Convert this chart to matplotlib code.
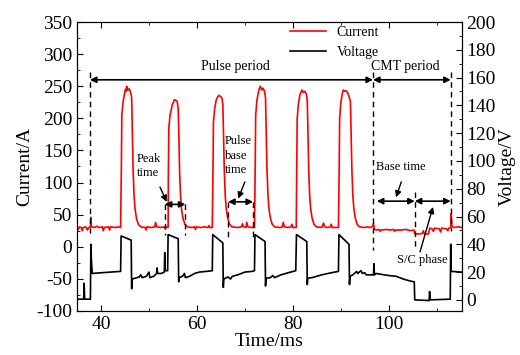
import matplotlib
matplotlib.use("Agg")
import matplotlib.pyplot as plt
from matplotlib.ticker import MultipleLocator

plt.rcParams['font.family'] = ['Liberation Serif', 'DejaVu Serif']
plt.rcParams['axes.unicode_minus'] = False

# current trace (time in ms, current in A)
cur_t = [35.0, 35.3, 35.5, 35.9, 36.1, 36.3, 36.8, 37.2, 37.4, 37.8, 37.9, 38.0, 38.6, 39.2, 39.5,
         40.3, 40.5, 40.7, 41.6, 41.8, 42.0, 43.0, 43.6, 44.1,
         44.25, 44.35, 44.6, 44.9, 45.1, 45.25, 45.35, 45.6, 45.9, 46.2, 46.4, 46.55, 46.7, 46.9, 47.1,
         47.4, 47.8, 48.3,
         49.2, 49.4, 49.6, 50.5, 51.2, 51.4, 51.6, 52.5, 53.2, 53.4, 53.6, 54.0,
         54.05, 54.15, 54.4, 54.7, 54.9, 55.1, 55.3, 55.6, 55.9, 56.1, 56.25, 56.4, 56.6, 56.8, 57.1,
         57.5, 58.0,
         59.0, 59.5, 59.7, 59.9, 60.8, 61.5, 62.3, 62.5, 62.7, 63.2,
         63.35, 63.45, 63.7, 64.0, 64.3, 64.6, 64.9, 65.2, 65.4, 65.55, 65.7, 65.9, 66.1, 66.4, 66.8,
         67.3,
         68.5, 69.3, 69.5, 69.7, 70.2, 70.4, 70.6, 71.5, 72.0,
         72.15, 72.25, 72.5, 72.8, 73.0, 73.2, 73.5, 73.8, 74.1, 74.3, 74.45, 74.6, 74.8, 75.0, 75.3,
         75.7, 76.2,
         77.3, 77.8, 78.0, 78.2, 79.0, 79.6, 79.8, 80.0, 80.7,
         80.8, 80.9, 81.15, 81.45, 81.7, 81.9, 82.2, 82.5, 82.8, 83.0, 83.15, 83.3, 83.5, 83.7, 84.0,
         84.4, 84.9,
         86.0, 86.4, 86.6, 87.3, 87.8, 88.0, 88.2, 89.5,
         89.65, 89.75, 90.0, 90.3, 90.5, 90.8, 91.1, 91.4, 91.7, 92.0, 92.15, 92.3, 92.5, 92.7, 93.0,
         93.4, 93.9,
         95.0, 95.5, 96.0, 96.5, 96.8, 97.0,
         97.5, 98.0, 98.2, 98.4, 99.5, 100.3, 101.0, 101.2, 101.4, 102.5, 103.5, 104.5, 105.3,
         105.4, 106.5, 107.0, 107.2, 107.4, 108.3, 108.5, 109.0, 109.3, 109.5, 110.5, 110.8, 111.0,
         112.0, 112.3, 112.5, 112.9, 113.0, 113.15, 113.5, 114.5, 115.2]
cur_a = [30, 27, 31, 30, 25, 30, 31, 26, 30, 31, 46, 31, 30, 32, 30,
         31, 25, 30, 31, 26, 31, 30, 31, 30,
         120, 205, 225, 238, 245, 242, 250, 244, 246, 240, 232, 180, 120, 80, 60,
         44, 35, 31,
         30, 26, 31, 30, 31, 38, 31, 30, 31, 28, 31, 30,
         110, 185, 205, 215, 222, 225, 229, 228, 226, 215, 170, 115, 78, 58, 44,
         35, 31,
         30, 31, 27, 31, 30, 31, 30, 33, 30, 30,
         120, 195, 215, 228, 233, 236, 234, 232, 222, 175, 120, 80, 60, 45, 35,
         31,
         30, 31, 36, 31, 30, 38, 31, 30, 30,
         125, 205, 228, 240, 246, 250, 244, 247, 242, 232, 180, 122, 82, 60, 45,
         35, 31,
         30, 31, 38, 31, 30, 31, 35, 30, 30,
         120, 200, 222, 236, 241, 244, 240, 242, 238, 228, 178, 120, 80, 60, 45,
         35, 31,
         30, 37, 31, 30, 31, 35, 30, 30,
         120, 200, 225, 238, 244, 242, 243, 240, 234, 226, 175, 120, 80, 60, 45,
         35, 31,
         30, 31, 30, 31, 36, 27,
         26, 27, 24, 26, 27, 26, 27, 24, 26, 26, 27, 25, 26,
         20, 20, 21, 25, 20, 20, 29, 28, 24, 29, 28, 23, 29,
         28, 25, 29, 30, 52, 32, 30, 31, 30]

# voltage trace (time in ms, voltage in V)
volt_t = [35.0, 36.4, 36.5, 36.6, 37.8, 37.9, 38.05, 38.2, 40.0, 42.0, 44.1,
          44.2, 46.3, 46.4, 46.5, 47.5, 48.0, 48.3, 48.6, 49.5, 50.0, 50.2, 51.0, 51.6, 51.7, 51.8,
          52.6, 53.2, 53.3, 53.4, 53.9,
          54.0, 56.1, 56.2, 56.3, 57.0, 57.4, 57.6, 58.5, 59.5, 60.5, 62.0, 63.2,
          63.3, 65.4, 65.5, 65.6, 66.5, 67.0, 67.4, 68.5, 70.0, 71.5, 72.0,
          72.1, 74.2, 74.3, 74.4, 75.3, 75.8, 76.2, 77.5, 79.0, 80.6,
          80.75, 82.9, 83.0, 83.1, 84.0, 86.0, 88.0, 89.5,
          89.6, 91.7, 91.8, 91.9, 92.5, 93.3, 93.5, 94.2, 94.5, 95.0, 95.3, 96.8, 96.9, 97.0, 97.3,
          100.0, 101.5, 103.0, 104.5, 105.3,
          105.4, 108.4, 108.5, 108.6, 112.8, 112.9, 113.0, 115.2]
volt_v = [0.5, 0.5, 12, 0.5, 0.5, 40, 26, 19, 19.5, 20, 20.5,
          46, 43, 8, 15, 16, 16.5, 18, 16, 17, 20, 16, 17, 19, 23, 19,
          19, 20, 34, 21, 21,
          47, 44, 13, 16, 17, 19, 16, 17, 19, 20, 20.5, 21,
          47, 41, 9, 15, 16.5, 15, 17, 18, 20, 20.5, 21,
          47, 42, 10, 15.5, 16, 17.5, 16, 18, 19.5, 21,
          47, 42, 11, 15.6, 16, 18, 19.5, 20.5,
          47, 40, 11, 17, 18, 20.5, 19, 21, 19, 19.5, 18, 18, 26, 18, 19,
          17.5, 17, 15, 13.5, 13,
          0, -0.5, 6, 0, 0.5, 40, 20.5, 20]

fig = plt.figure(figsize=(5.2, 3.55), dpi=100)
ax = fig.add_axes([0.148, 0.124, 0.740, 0.814])
ax2 = ax.twinx()

l1, = ax.plot(cur_t, cur_a, color='red', lw=1.2, label='Current')
l2, = ax2.plot(volt_t, volt_v, color='black', lw=1.2, label='Voltage')

ax.set_xlim(35, 115.2)
ax.set_ylim(-100, 350)
ax2.set_ylim(-8, 200)

ax.xaxis.set_major_locator(MultipleLocator(20))
ax.xaxis.set_minor_locator(MultipleLocator(10))
ax.yaxis.set_major_locator(MultipleLocator(50))
ax.yaxis.set_minor_locator(MultipleLocator(25))
ax2.yaxis.set_major_locator(MultipleLocator(20))
ax2.yaxis.set_minor_locator(MultipleLocator(10))

ax.tick_params(which='both', direction='in', top=True, right=False, labelsize=14)
ax.tick_params(which='major', length=4)
ax.tick_params(which='minor', length=2)
ax2.tick_params(which='both', direction='in', labelsize=14)
ax2.tick_params(which='major', length=4)
ax2.tick_params(which='minor', length=2)

ax.set_xlabel('Time/ms', fontsize=14, labelpad=0)
ax.set_ylabel('Current/A', fontsize=14, labelpad=2)
ax2.set_ylabel('Voltage/V', fontsize=14, labelpad=2)

ax.legend(handles=[l1, l2], loc='upper left', bbox_to_anchor=(0.52, 1.03),
          frameon=False, fontsize=10, handlelength=2.6, labelspacing=0.5)

# dashed markers
dash = dict(color='black', ls=(0, (4, 3)), lw=1.0)
ax.plot([37.7, 37.7], [272, 18], **dash)
ax.plot([96.7, 96.7], [272, -5], **dash)
ax.plot([112.9, 112.9], [272, 25], **dash)
ax.plot([105.4, 105.4], [86, -5], **dash)
ax.plot([53.3, 53.3], [66, 18], **dash)
ax.plot([57.6, 57.6], [66, 18], **dash)
ax.plot([66.5, 66.5], [70, 12], **dash)
ax.plot([71.7, 71.7], [70, 12], **dash)

# span arrows
span = dict(arrowstyle='<|-|>', color='black', lw=1.2, mutation_scale=9, shrinkA=0, shrinkB=0)
ax.annotate('', xy=(37.7, 260), xytext=(96.7, 260), arrowprops=span)
ax.annotate('', xy=(96.7, 260), xytext=(112.9, 260), arrowprops=span)
ax.annotate('', xy=(53.3, 66), xytext=(57.6, 66), arrowprops=span)
ax.annotate('', xy=(66.5, 70), xytext=(71.7, 70), arrowprops=span)
ax.annotate('', xy=(97.5, 71), xytext=(105.4, 71), arrowprops=span)
ax.annotate('', xy=(105.4, 71), xytext=(112.9, 71), arrowprops=span)

ax.text(68.1, 280, 'Pulse period', ha='center', va='center', fontsize=10)
ax.text(103.5, 280, 'CMT period', ha='center', va='center', fontsize=10)

# pointer labels
ptr = dict(arrowstyle='-|>', color='black', lw=1.0, mutation_scale=9, shrinkA=0, shrinkB=0)
ax.text(47.5, 126, 'Peak\ntime', ha='left', va='center', fontsize=9, linespacing=1.3)
ax.annotate('', xy=(53.7, 70), xytext=(52.3, 93), arrowprops=ptr)
ax.text(65.8, 142, 'Pulse\nbase\ntime', ha='left', va='center', fontsize=9, linespacing=1.3)
ax.annotate('', xy=(68.6, 75), xytext=(70.0, 101), arrowprops=ptr)
ax.text(97.4, 124, 'Base time', ha='left', va='center', fontsize=9)
ax.annotate('', xy=(101.5, 77), xytext=(102.6, 101), arrowprops=ptr)
ax.text(101.8, -21, 'S/C phase', ha='left', va='center', fontsize=9)
ax.annotate('', xy=(109.2, 62), xytext=(106.5, -8), arrowprops=ptr)

fig.savefig('out.png', dpi=100)
